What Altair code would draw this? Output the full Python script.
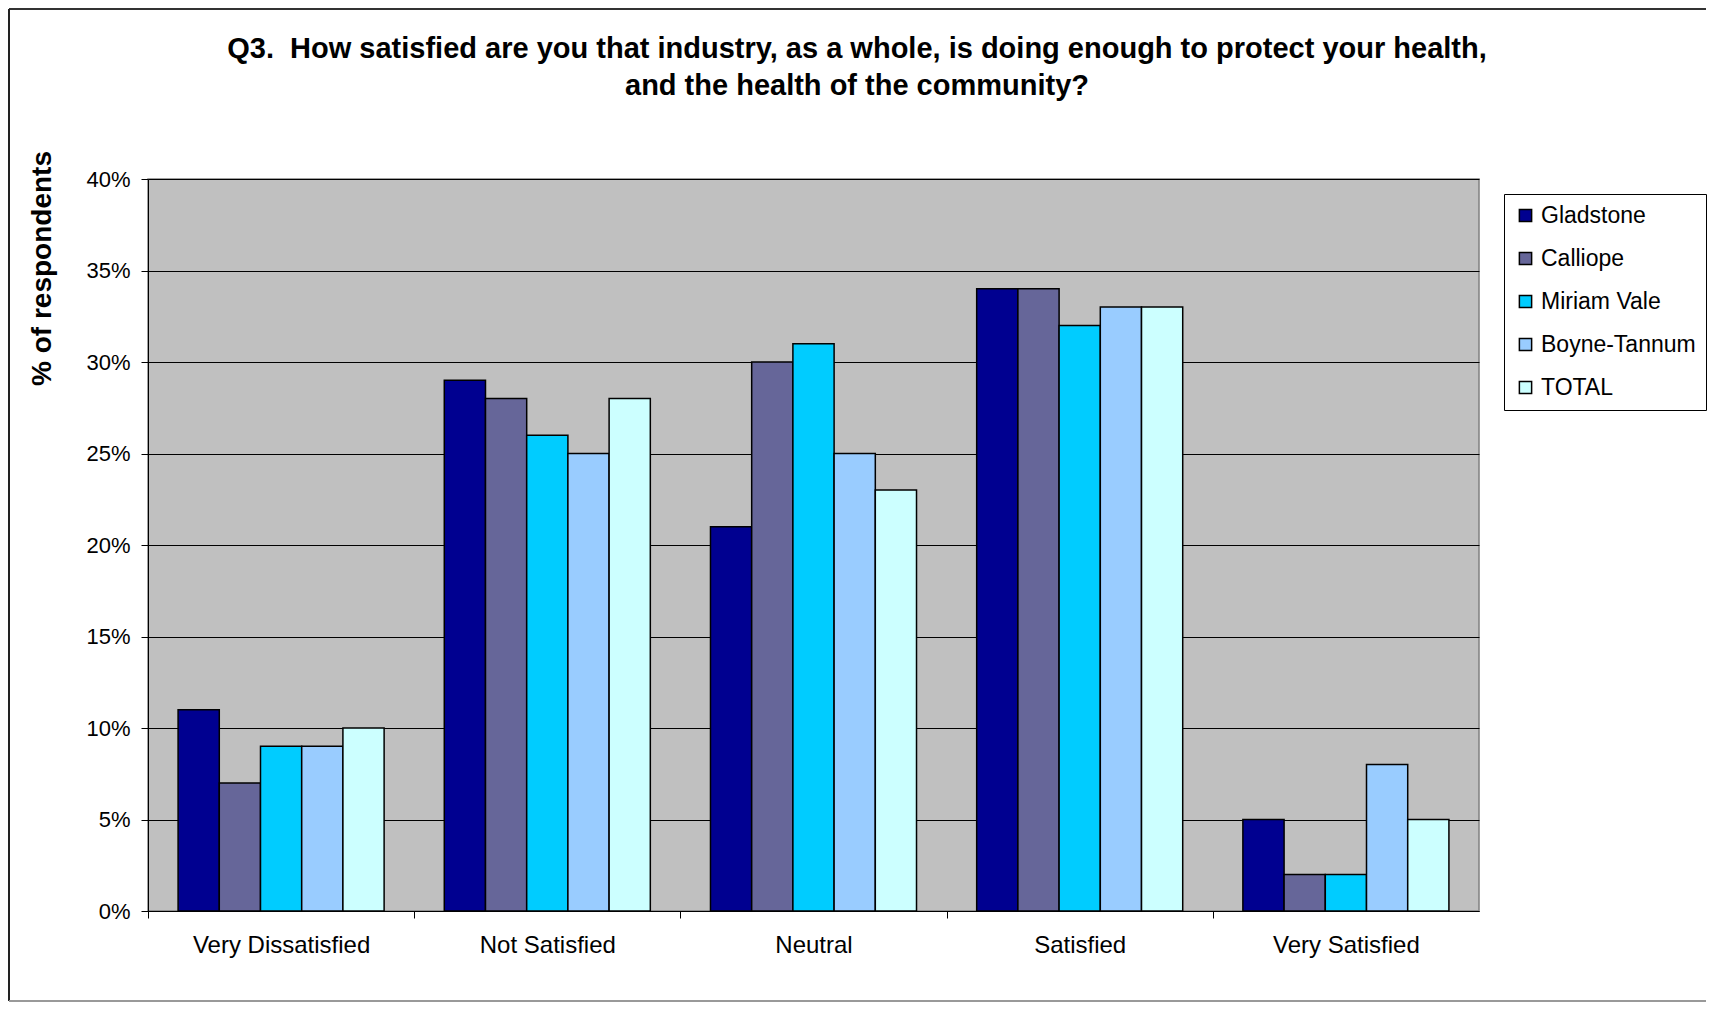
import altair as alt
import pandas as pd

categories = ["Very Dissatisfied", "Not Satisfied", "Neutral", "Satisfied", "Very Satisfied"]
series = ["Gladstone", "Calliope", "Miriam Vale", "Boyne-Tannum", "TOTAL"]
gladstone = [11, 29, 21, 34, 5]
calliope = [7, 28, 30, 34, 2]
miriam_vale = [9, 26, 31, 32, 2]
boyne_tannum = [9, 25, 25, 33, 8]
total = [10, 28, 23, 33, 5]
colors = ["#000090", "#666699", "#00CCFF", "#99CCFF", "#CCFFFF"]
y_ticks = [0, 5, 10, 15, 20, 25, 30, 35, 40]
title_lines = ["Q3.\u00a0\u00a0How satisfied are you that industry, as a whole, is doing enough to protect your health,",
               "and the health of the community?"]

rows = []
for s, vals in zip(series, [gladstone, calliope, miriam_vale, boyne_tannum, total]):
    for c, v in zip(categories, vals):
        rows.append({"category": c, "series": s, "value": v})
df = pd.DataFrame(rows)

FONT = "Liberation Sans"
W, H = 1331, 732
step = W / len(categories)
pin, pout = 0.226, 0.113

bars = alt.Chart(df).mark_bar(stroke="black", strokeWidth=1.5).encode(
    x=alt.X("category:N", sort=categories,
            scale=alt.Scale(paddingInner=pin, paddingOuter=pout),
            axis=alt.Axis(title=None, labelAngle=0, bandPosition=0,
                          tickOffset=-pout * step, labelOffset=pout * step,
                          labelFontSize=24, labelFont=FONT, labelColor="black",
                          labelPadding=15, tickSize=7, tickColor="black",
                          domainColor="black", grid=False)),
    xOffset=alt.XOffset("series:N", sort=series, scale=alt.Scale(paddingInner=0, paddingOuter=0)),
    y=alt.Y("value:Q", scale=alt.Scale(domain=[0, 40]),
            axis=alt.Axis(values=y_ticks, labelExpr="datum.value + '%'",
                          title="% of respondents", titleFont=FONT, titleFontSize=28,
                          titleFontWeight="bold", titleColor="black",
                          titleAngle=270, titleX=-106, titleY=89,
                          titleAlign="center", titleBaseline="middle",
                          labelFontSize=22, labelFont=FONT, labelColor="black",
                          labelPadding=11, tickSize=7, tickColor="black",
                          domainColor="black", gridColor="black", gridWidth=1)),
    color=alt.Color("series:N", sort=series,
                    scale=alt.Scale(domain=series, range=colors),
                    legend=alt.Legend(title=None, orient="none", legendX=1356, legendY=15,
                                      symbolType="square", symbolSize=150,
                                      symbolStrokeColor="black", symbolStrokeWidth=1.5,
                                      symbolOpacity=1,
                                      labelFont=FONT, labelFontSize=23, labelColor="black",
                                      labelOffset=4, rowPadding=19, padding=10,
                                      strokeColor="black", fillColor="white")),
)

one = alt.Chart(pd.DataFrame({"k": [0]}))
frame_top = one.mark_rule(color="#333333", strokeWidth=2).encode(
    x=alt.value(-139), x2=alt.value(1558), y=alt.value(-170))
frame_left = one.mark_rule(color="#222222", strokeWidth=2).encode(
    x=alt.value(-139), y=alt.value(-170), y2=alt.value(822))
frame_bottom = one.mark_rule(color="#999999", strokeWidth=2).encode(
    x=alt.value(-139), x2=alt.value(1558), y=alt.value(822))

title1 = one.mark_text(text=title_lines[0], font=FONT, fontSize=29, fontWeight="bold",
                       color="black", align="center", baseline="middle").encode(
    x=alt.value(709), y=alt.value(-130))
title2 = one.mark_text(text=title_lines[1], font=FONT, fontSize=29, fontWeight="bold",
                       color="black", align="center", baseline="middle").encode(
    x=alt.value(709), y=alt.value(-93))

chart = alt.layer(bars, frame_top, frame_left, frame_bottom, title1, title2).properties(
    width=W, height=H,
    padding={"left": 140, "top": 171, "right": 228, "bottom": 91},
    autosize=alt.AutoSizeParams(type="none"),
).configure_view(
    fill="#C0C0C0", stroke="#808080", strokeWidth=1.5
)

chart.save("out.html", embed_options={"renderer": "svg", "actions": False})
